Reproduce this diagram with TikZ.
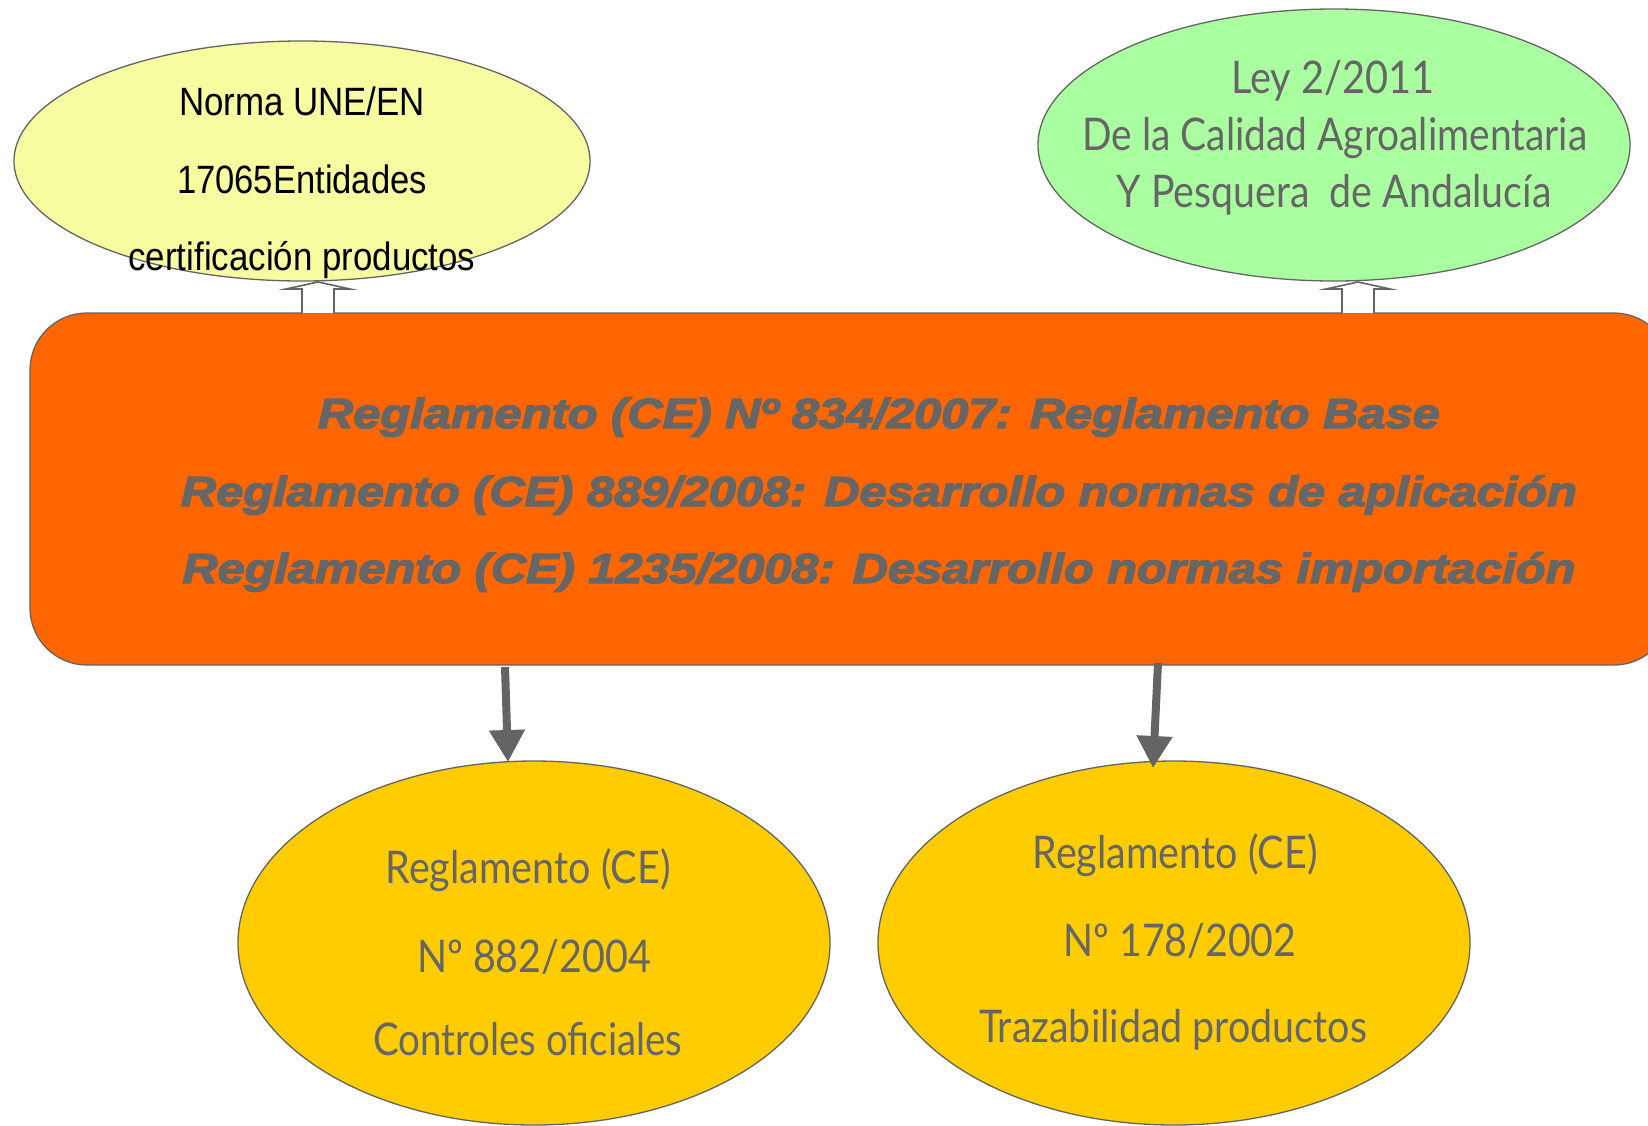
\documentclass[tikz,border=0pt]{standalone}
\usepackage{fontspec}
\setmainfont{Liberation Sans}
\newfontfamily\grayfont{Lato}
\newfontfamily\blackfont{Liberation Sans Bold Italic}[FakeBold=3.2]
\usetikzlibrary{arrows.meta,shapes.geometric}
\definecolor{orng}{RGB}{255,102,0}
\definecolor{lyel}{RGB}{248,252,160}
\definecolor{lgrn}{RGB}{170,255,160}
\definecolor{gold}{RGB}{255,204,0}
\definecolor{edge}{RGB}{100,100,100}
\definecolor{txtgray}{RGB}{102,102,102}
\newsavebox\fitbox
\newcommand\fitx[2]{\sbox\fitbox{#2}\edef\fitfac{\fpeval{(#1)/(\the\wd\fitbox)}}\scalebox{\fitfac}[1]{\usebox\fitbox}}
\begin{document}
\begin{tikzpicture}[x=1pt,y=-1pt,
  oval/.style={ellipse,draw=edge,line width=1.3pt,inner sep=0pt,outer sep=0pt},
  mainbox/.style={draw=edge,line width=1.3pt,fill=orng,rounded corners=57pt,inner sep=0pt,outer sep=0pt},
  graytxt/.style={anchor=base,inner sep=0pt,text=txtgray,font=\grayfont\fontsize{45}{50}\selectfont},
  blacktxt/.style={anchor=base,inner sep=0pt,text=black,font=\fontsize{39.5}{44}\selectfont},
  boldtxt/.style={anchor=base,inner sep=0pt,text=txtgray,font=\blackfont\fontsize{42}{46}\selectfont},
  hollow/.style={draw=edge,line width=1.6pt,fill=white,line join=miter},
  downarrow/.style={draw=edge,line width=8pt,-{Triangle[width=34pt,length=32pt]}}
]
\useasboundingbox (0,0) rectangle (1648,1125);
\fill[white] (0,0) rectangle (1648,1125);

% main box
\node[mainbox,minimum width=1641pt,minimum height=352pt] (o) at (850.5,489) {};

% ellipses
\node[oval,fill=lyel,minimum width=576pt,minimum height=240pt] (tl) at (302,161) {};
\node[oval,fill=lgrn,minimum width=592pt,minimum height=272pt] (tr) at (1334,145) {};
\node[oval,fill=gold,minimum width=592pt,minimum height=364pt] (bl) at (534,943) {};
\node[oval,fill=gold,minimum width=592pt,minimum height=364pt] (br) at (1174,943) {};

% hollow up arrows (from box to top ellipses)
\coordinate (u1) at (318,282);
\coordinate (u2) at (1358,282);
\draw[hollow] (u1 |- o.north) ++(-16,0) -- ++(0,-24) -- ++(-16,0) -- (u1) -- ++(32,7) -- ++(-16,0) -- ++(0,24);
\draw[hollow] (u2 |- o.north) ++(-16,0) -- ++(0,-24) -- ++(-16,0) -- (u2) -- ++(32,7) -- ++(-16,0) -- ++(0,24);

% down arrows (from box to bottom ellipses)
\coordinate (d1s) at (505,667);
\coordinate (d1e) at (508,762);
\coordinate (d2s) at (1158,663);
\coordinate (d2e) at (1153,768);
\draw[downarrow] (d1s) -- (d1e);
\draw[downarrow] (d2s) -- (d2e);

% texts of the main box
\node[boldtxt] (m1) at (879,428) {\fitx{1122pt}{Reglamento (CE) Nº 834/2007: Reglamento Base}};
\node[boldtxt] (m2) at (879,506) {\fitx{1396pt}{Reglamento (CE) 889/2008: Desarrollo normas de aplicación}};
\node[boldtxt] (m3) at (879,583) {\fitx{1393pt}{Reglamento (CE) 1235/2008: Desarrollo normas importación}};

% top-left text
\node[blacktxt] (tl1) at (302,115) {\fitx{246pt}{Norma UNE/EN}};
\node[blacktxt] (tl2) at (302,193) {\fitx{250pt}{17065Entidades}};
\node[blacktxt] (tl3) at (302,270) {\fitx{347pt}{certificación productos}};

% top-right text
\node[graytxt] (tr1) at (1333,93) {\fitx{203pt}{Ley 2/2011}};
\node[graytxt] (tr2) at (1335,150) {\fitx{505pt}{De la Calidad Agroalimentaria}};
\node[graytxt] (tr3) at (1334,207) {\fitx{435pt}{Y Pesquera\ \ de Andalucía}};

% bottom-left text
\node[graytxt] (bl1) at (528,883) {\fitx{285pt}{Reglamento (CE)}};
\node[graytxt] (bl2) at (534,972) {\fitx{234pt}{Nº 882/2004}};
\node[graytxt] (bl3) at (528,1055) {\fitx{309pt}{Controles oficiales}};

% bottom-right text
\node[graytxt] (br1) at (1175,868) {\fitx{285pt}{Reglamento (CE)}};
\node[graytxt] (br2) at (1180,956) {\fitx{233pt}{Nº 178/2002}};
\node[graytxt] (br3) at (1173,1042) {\fitx{388pt}{Trazabilidad productos}};
\end{tikzpicture}
\end{document}
